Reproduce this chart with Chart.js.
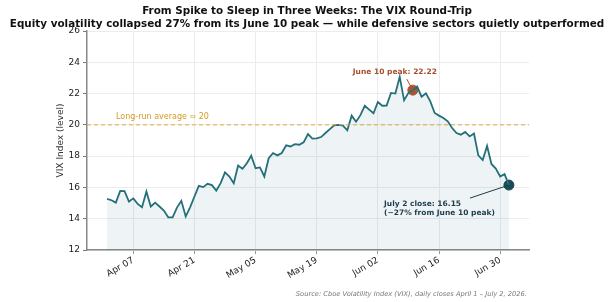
<!DOCTYPE html>
<html>
<head>
<meta charset="utf-8">
<script src="https://cdn.jsdelivr.net/npm/chart.js@4"></script>
<style>
  html, body { margin: 0; padding: 0; background: #fff; }
  #wrap { width: 614px; height: 302px; }
</style>
</head>
<body>
<div id="wrap"><canvas id="vixChart" width="614" height="302"></canvas></div>
<script>
// daily VIX closes, April 1 .. July 2, 2026 (one value per calendar day)
const startDate = new Date(2026, 3, 1);
const vixClose = [
  15.27, 15.18, 15.03, 15.78, 15.76, 15.10, 15.30, 14.95, 14.73, 15.74,
  14.78, 15.03, 14.78, 14.52, 14.09, 14.09, 14.71, 15.14, 14.14, 14.73,
  15.42, 16.10, 16.02, 16.23, 16.15, 15.80, 16.27, 16.96, 16.70, 16.27,
  17.40, 17.19, 17.55, 18.03, 17.23, 17.28, 16.70, 17.87, 18.20, 18.05,
  18.20, 18.69, 18.62, 18.77, 18.73, 18.88, 19.41, 19.12, 19.14, 19.22,
  19.48, 19.73, 19.97, 20.00, 19.95, 19.65, 20.59, 20.20, 20.62, 21.22,
  20.97, 20.74, 21.46, 21.22, 21.23, 22.04, 22.00, 23.07, 21.57, 22.05,
  22.22, 22.45, 21.80, 22.02, 21.50, 20.76, 20.59, 20.44, 20.23, 19.80,
  19.48, 19.37, 19.55, 19.26, 19.45, 18.05, 17.75, 18.65, 17.50, 17.20,
  16.70, 16.85, 16.15
];
const tickDays = [6, 20, 34, 48, 62, 76, 90];
const yTicks = [12, 14, 16, 18, 20, 22, 24, 26];
const longRunAvg = 20;
const peakPoint = { day: 70, value: 22.22 };
const lastPoint = { day: 92, value: 16.15 };
const monthNames = ["Jan","Feb","Mar","Apr","May","Jun","Jul","Aug","Sep","Oct","Nov","Dec"];

const xMin = -4.6, xMax = 96.6;

function dayLabel(d) {
  const dt = new Date(startDate.getTime());
  dt.setDate(dt.getDate() + d);
  return monthNames[dt.getMonth()] + " " + String(dt.getDate()).padStart(2, "0");
}

const FONT = "'DejaVu Sans', sans-serif";

const notesPlugin = {
  id: "notes",
  afterDraw(chart) {
    const ctx = chart.ctx;
    const xs = chart.scales.x, ys = chart.scales.y;
    ctx.save();

    // titles
    ctx.fillStyle = "#111";
    ctx.textAlign = "center";
    ctx.textBaseline = "middle";
    ctx.font = "bold 10.4px " + FONT;
    ctx.fillText("From Spike to Sleep in Three Weeks: The VIX Round-Trip", 307, 11);
    ctx.fillText("Equity volatility collapsed 27% from its June 10 peak \u2014 while defensive sectors quietly outperformed", 307, 24);

    // long-run average label
    ctx.font = "8px " + FONT;
    ctx.fillStyle = "#d39b1e";
    ctx.textAlign = "left";
    ctx.fillText("Long-run average \u2248 20", 116, ys.getPixelForValue(longRunAvg) - 8);

    // peak note
    const px = xs.getPixelForValue(peakPoint.day), py = ys.getPixelForValue(peakPoint.value);
    ctx.strokeStyle = "#a4502d";
    ctx.lineWidth = 1;
    ctx.beginPath();
    ctx.moveTo(px - 6, py - 11);
    ctx.lineTo(px, py);
    ctx.stroke();
    ctx.font = "bold 7.5px " + FONT;
    ctx.fillStyle = "#a4502d";
    ctx.textAlign = "center";
    ctx.fillText("June 10 peak: 22.22", px - 18, py - 18);

    // last close note
    const lx = xs.getPixelForValue(lastPoint.day), ly = ys.getPixelForValue(lastPoint.value);
    ctx.strokeStyle = "#1f3b4d";
    ctx.beginPath();
    ctx.moveTo(470, ly + 13);
    ctx.lineTo(lx, ly);
    ctx.stroke();
    ctx.fillStyle = "#1f3b4d";
    ctx.textAlign = "left";
    ctx.fillText("July 2 close: 16.15", 384, ly + 19);
    ctx.fillText("(\u221227% from June 10 peak)", 384, ly + 28);

    // source
    ctx.font = "italic 6.7px " + FONT;
    ctx.fillStyle = "#777";
    ctx.textAlign = "right";
    ctx.fillText("Source: Cboe Volatility Index (VIX), daily closes April 1 \u2013 July 2, 2026.", 527, 294);
    ctx.restore();
  }
};

const ctx = document.getElementById("vixChart").getContext("2d");
new Chart(ctx, {
  type: "line",
  data: {
    datasets: [
      {
        label: "Long-run average",
        data: [{ x: xMin, y: longRunAvg }, { x: xMax, y: longRunAvg }],
        borderColor: "#e2a93a",
        borderWidth: 1,
        borderDash: [4, 3],
        pointRadius: 0,
        fill: false
      },
      {
        label: "VIX",
        data: vixClose.map((v, i) => ({ x: i, y: v })),
        borderColor: "#24707a",
        backgroundColor: "rgba(36, 112, 122, 0.08)",
        borderWidth: 1.8,
        pointRadius: 0,
        fill: "start",
        tension: 0
      },
      {
        label: "Peak",
        type: "scatter",
        data: [{ x: peakPoint.day, y: peakPoint.value }],
        backgroundColor: "#b5532a",
        borderColor: "#b5532a",
        pointRadius: 5
      },
      {
        label: "Last",
        type: "scatter",
        data: [{ x: lastPoint.day, y: lastPoint.value }],
        backgroundColor: "#1c4a54",
        borderColor: "#1c4a54",
        pointRadius: 5
      }
    ]
  },
  options: {
    responsive: false,
    animation: false,
    layout: { padding: { top: 31, left: 55, right: 85, bottom: 0 } },
    scales: {
      x: {
        type: "linear",
        min: xMin,
        max: xMax,
        afterBuildTicks: s => { s.ticks = tickDays.map(v => ({ value: v })); },
        afterFit: s => { s.height = 52; },
        ticks: {
          callback: v => dayLabel(v),
          color: "#222",
          font: { family: FONT, size: 9 },
          maxRotation: 30,
          minRotation: 30,
          padding: 1
        },
        grid: {
          color: "#ececec",
          borderDash: [2, 2],
          tickColor: "#777",
          tickBorderDash: [1, 0],
          tickLength: 4
        },
        border: { color: "#888", width: 1.5 }
      },
      y: {
        min: 12,
        max: 26,
        afterBuildTicks: s => { s.ticks = yTicks.map(v => ({ value: v })); },
        afterFit: s => { s.width = 32; },
        ticks: {
          color: "#222",
          font: { family: FONT, size: 9 },
          padding: 3
        },
        title: {
          display: true,
          text: "VIX Index (level)",
          color: "#333",
          font: { family: FONT, size: 9 },
          padding: { top: 0, bottom: 0 }
        },
        grid: {
          color: "#ececec",
          borderDash: [2, 2],
          tickColor: "#777",
          tickBorderDash: [1, 0],
          tickLength: 4
        },
        border: { color: "#888", width: 1.5 }
      }
    },
    plugins: {
      legend: { display: false },
      tooltip: { enabled: false }
    }
  },
  plugins: [notesPlugin]
});
</script>
</body>
</html>
